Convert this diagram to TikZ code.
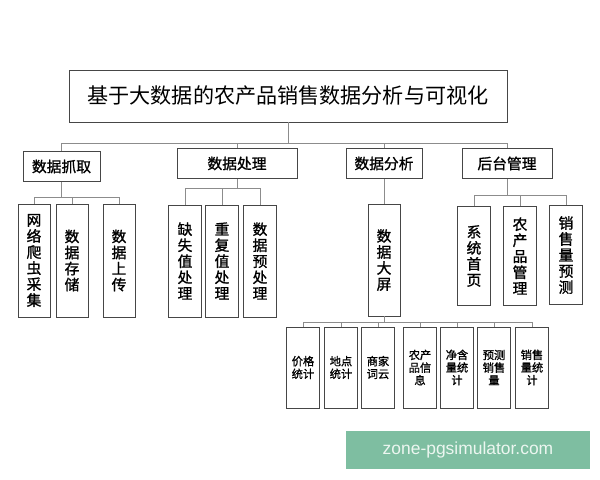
\documentclass[tikz,border=0pt]{standalone}
\usepackage{fontspec}
\usepackage{tikz}
\setmainfont{Liberation Sans}
\newfontfamily\cjk{Noto Sans CJK SC}
\newfontfamily\cjkb[FakeBold=1.2]{Noto Sans CJK SC}
\definecolor{boxline}{RGB}{70,70,70}
\definecolor{linkline}{RGB}{140,140,140}
\definecolor{wmgreen}{RGB}{126,190,161}
\definecolor{wmtext}{RGB}{236,246,240}
\newdimen\pxu \pxu=0.025cm

\begin{document}
\begin{tikzpicture}[x=0.025cm,y=-0.025cm,
		titlebox/.style={draw=boxline,line width=0.7pt,inner sep=0pt,
			font=\cjk\fontsize{15}{18}\selectfont},
		midbox/.style={draw=boxline,line width=0.7pt,inner sep=0pt,minimum height=30\pxu,
			font=\cjkb\fontsize{10.5}{12}\selectfont},
		leaf/.style={draw=boxline,line width=0.7pt,inner sep=0pt,align=center,
			font=\cjkb\fontsize{10.5}{11.4}\selectfont},
		smallleaf/.style={draw=boxline,line width=0.7pt,inner sep=0pt,align=center,
			minimum width=33\pxu,minimum height=81\pxu,
			font=\cjkb\fontsize{8}{9}\selectfont},
		link/.style={draw=linkline,line width=0.6pt}]
	\useasboundingbox (0,0) rectangle (600,480);
	% Titel
	\node[titlebox,minimum width=438\pxu,minimum height=52\pxu] (title) at (288,96) {基于大数据的农产品销售数据分析与可视化};
	% erste Ebene
	\node[midbox,minimum width=77\pxu] (grab) at (61.5,166.5) {数据抓取};
	\node[midbox,minimum width=120\pxu] (proc) at (237,163.5) {数据处理};
	\node[midbox,minimum width=76\pxu] (anal) at (384,163.5) {数据分析};
	\node[midbox,minimum width=90\pxu] (admin) at (507,163.5) {后台管理};
	% Blaetter
	\node[leaf,minimum width=32\pxu,minimum height=113\pxu] (g1) at (34,260.5) {网\\络\\爬\\虫\\采\\集};
	\node[leaf,minimum width=32\pxu,minimum height=113\pxu] (g2) at (72,260.5) {数\\据\\存\\储};
	\node[leaf,minimum width=32\pxu,minimum height=113\pxu] (g3) at (119,260.5) {数\\据\\上\\传};
	\node[leaf,minimum width=33\pxu,minimum height=112\pxu] (p1) at (185,261) {缺\\失\\值\\处\\理};
	\node[leaf,minimum width=33\pxu,minimum height=112\pxu] (p2) at (222,261) {重\\复\\值\\处\\理};
	\node[leaf,minimum width=33\pxu,minimum height=112\pxu] (p3) at (260,261) {数\\据\\预\\处\\理};
	\node[leaf,minimum width=32\pxu,minimum height=112\pxu] (screen) at (384,260) {数\\据\\大\\屏};
	\node[leaf,minimum width=33\pxu,minimum height=99\pxu] (a1) at (474,256) {系\\统\\首\\页};
	\node[leaf,minimum width=33\pxu,minimum height=99\pxu] (a2) at (520,256) {农\\产\\品\\管\\理};
	\node[leaf,minimum width=33\pxu,minimum height=99\pxu] (a3) at (566,255) {销\\售\\量\\预\\测};
	% unterste Ebene
	\node[smallleaf] (s1) at (303,367.5) {价格\\统计};
	\node[smallleaf] (s2) at (341,367.5) {地点\\统计};
	\node[smallleaf] (s3) at (378,367.5) {商家\\词云};
	\node[smallleaf] (s4) at (420,367.5) {农产\\品信\\息};
	\node[smallleaf] (s5) at (457,367.5) {净含\\量统\\计};
	\node[smallleaf] (s6) at (494,367.5) {预测\\销售\\量};
	\node[smallleaf] (s7) at (532,367.5) {销售\\量统\\计};
	% Verbindungen
	\coordinate (bus0) at (0,143);
	\coordinate (bus1) at (0,197);
	\coordinate (bus2) at (0,188);
	\coordinate (bus3) at (0,195);
	\coordinate (bus4) at (0,322);
	\foreach \n in {grab,proc,anal,admin}
	\draw[link] (\n.north) -- (\n.north |- bus0) -| (title.south);
	\foreach \n in {g1,g2,g3}
	\draw[link] (\n.north) -- (\n.north |- bus1) -| (grab.south);
	\foreach \n in {p1,p2,p3}
	\draw[link] (\n.north) -- (\n.north |- bus2) -| (proc.south);
	\foreach \n in {a1,a2,a3}
	\draw[link] (\n.north) -- (\n.north |- bus3) -| (admin.south);
	\draw[link] (anal.south) -- (screen.north);
	\foreach \n in {s1,s2,s3,s4,s5,s6,s7}
	\draw[link] (\n.north) -- (\n.north |- bus4) -| (screen.south);
	% Wasserzeichen
	\node[fill=wmgreen,text=wmtext,inner sep=0pt,minimum width=244\pxu,minimum height=38\pxu,
		font=\fontsize{12.4}{14}\selectfont] (wm) at (468,450) {zone-pgsimulator.com};
\end{tikzpicture}
\end{document}
